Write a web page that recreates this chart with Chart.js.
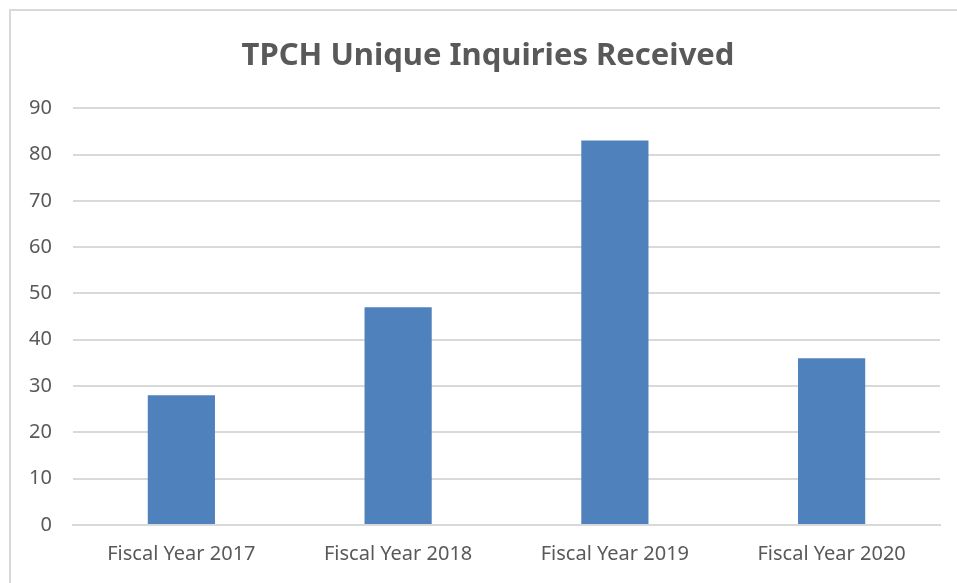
<!DOCTYPE html>
<html>
<head>
<meta charset="utf-8">
<script src="https://cdn.jsdelivr.net/npm/chart.js@4"></script>
<style>
    html, body { margin: 0; padding: 0; background: #fff; overflow: hidden; }
    .frame { position: absolute; left: 9px; top: 9px; width: 960px; height: 600px; border: 2px solid #d9d9d9; }
    #chart { position: absolute; left: 0; top: 0; }
</style>
</head>
<body>
<div class="frame"></div>
<canvas id="chart" width="957" height="583"></canvas>
<script>
const categories = ['Fiscal Year 2017', 'Fiscal Year 2018', 'Fiscal Year 2019', 'Fiscal Year 2020'];
const inquiries = [28, 47, 83, 36];
const yMin = 0;
const yMax = 90;
const yStep = 10;

const textColor = '#595959';
const gridColor = '#d9d9d9';

// nudge the title block right so it centres over the frame, not the canvas
const shiftTitle = {
    id: 'shiftTitle',
    afterLayout(chart) {
        if (chart.titleBlock) chart.titleBlock.left += 36;
    }
};

new Chart(document.getElementById('chart'), {
    type: 'bar',
    data: {
        labels: categories,
        datasets: [{
            label: 'Inquiries',
            data: inquiries,
            backgroundColor: '#4f81bd',
            categoryPercentage: 1,
            barPercentage: 0.31
        }]
    },
    options: {
        responsive: false,
        animation: false,
        layout: { padding: { left: 0, right: 17, top: 0, bottom: 0 } },
        plugins: {
            legend: { display: false },
            tooltip: { enabled: false },
            title: {
                display: true,
                text: 'TPCH Unique Inquiries Received',
                color: textColor,
                font: { family: 'Noto Sans', size: 31, weight: 'bold' },
                padding: { top: 38, bottom: 33 }
            }
        },
        scales: {
            x: {
                grid: { display: false, drawTicks: false },
                border: { color: gridColor, width: 2 },
                ticks: { color: textColor, font: { family: 'Noto Sans', size: 20 }, padding: 17, maxRotation: 0 },
                afterFit: (scale) => { scale.height = 58; }
            },
            y: {
                min: yMin,
                max: yMax,
                ticks: { stepSize: yStep, color: textColor, font: { family: 'Noto Sans', size: 20 }, padding: 21 },
                grid: { color: gridColor, lineWidth: 2, drawTicks: false },
                border: { display: false },
                afterFit: (scale) => { scale.width = 73; }
            }
        }
    },
    plugins: [shiftTitle]
});
</script>
</body>
</html>
